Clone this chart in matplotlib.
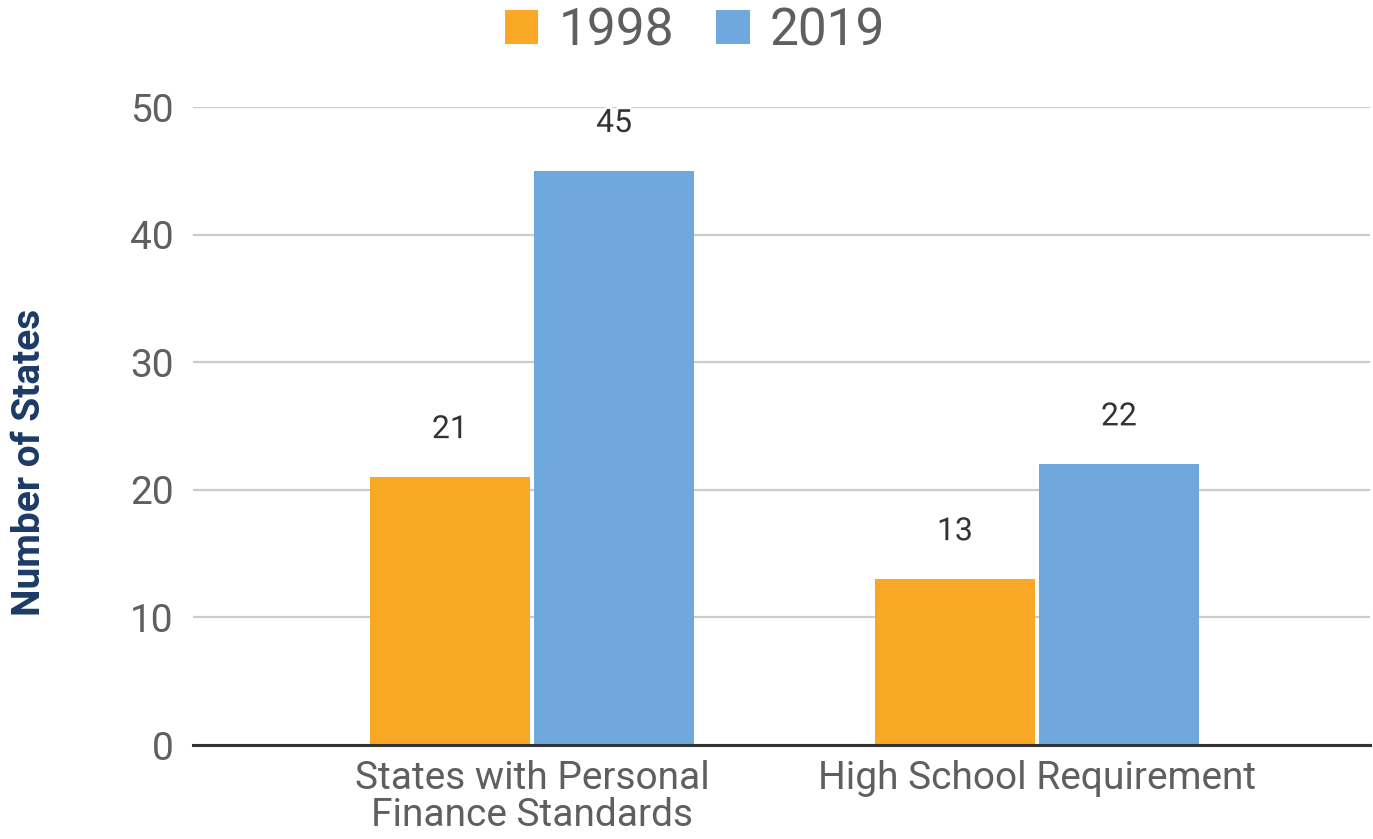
import matplotlib
matplotlib.use("Agg")
import matplotlib.pyplot as plt
import matplotlib.patheffects as pe
import numpy as np

plt.rcParams['font.family'] = ['Roboto', 'DejaVu Sans']

categories = ["States with Personal\nFinance Standards", "High School Requirement"]
series_names = ["1998", "2019"]
values_1998 = [21, 13]
values_2019 = [45, 22]
y_ticks = [0, 10, 20, 30, 40, 50]

colors = ["#F9A825", "#6FA8DC"]

W, H = 1373, 839
fig = plt.figure(figsize=(W / 100, H / 100), dpi=100)
ax = fig.add_axes([193 / W, 94 / H, (1370 - 193) / W, (745 - 107) / H])

x = np.arange(len(categories))
bw = 0.317
off = 0.1625
b1 = ax.bar(x - off, values_1998, bw, color=colors[0], label=series_names[0], zorder=3)
b2 = ax.bar(x + off, values_2019, bw, color=colors[1], label=series_names[1], zorder=3)

for bars in (b1, b2):
    for r in bars:
        h = r.get_height()
        t = ax.annotate(f"{h:g}", (r.get_x() + r.get_width() / 2, h),
                        xytext=(0, 28), textcoords="offset points",
                        ha="center", va="baseline", fontsize=23, color="#333333", zorder=5)
        t.set_path_effects([pe.withStroke(linewidth=4, foreground="white")])

ax.set_xlim((193 - 532) / 505, (1370 - 532) / 505)
ax.set_ylim(0, 50)
ax.set_yticks(y_ticks)
ax.set_xticks(x)
ax.set_xticklabels(categories, fontsize=28, color="#5f5f5f", linespacing=1.0)
ax.tick_params(axis="y", labelsize=28, labelcolor="#5f5f5f", length=0, pad=14)
ax.tick_params(axis="x", length=0, pad=11)

ax.grid(axis="y", color="#cccccc", linewidth=1.6, zorder=0)
for s in ["top", "right", "left"]:
    ax.spines[s].set_visible(False)
ax.spines["bottom"].set_color("#333333")
ax.spines["bottom"].set_linewidth(2.2)
ax.spines["bottom"].set_zorder(4)

fig.text(30 / W, 1 - 462 / H, "Number of States", rotation=90, ha="center", va="center",
         fontsize=28, fontweight="bold", color="#1B3A66")

leg = fig.legend(loc="center", bbox_to_anchor=(695 / W, 1 - 31 / H), ncol=2, frameon=False,
                 fontsize=37, handlelength=0.66, handleheight=0.66, handletextpad=0.4,
                 columnspacing=0.8)
for t in leg.get_texts():
    t.set_color("#5f5f5f")

fig.savefig("out.png", dpi=100, facecolor="white")
